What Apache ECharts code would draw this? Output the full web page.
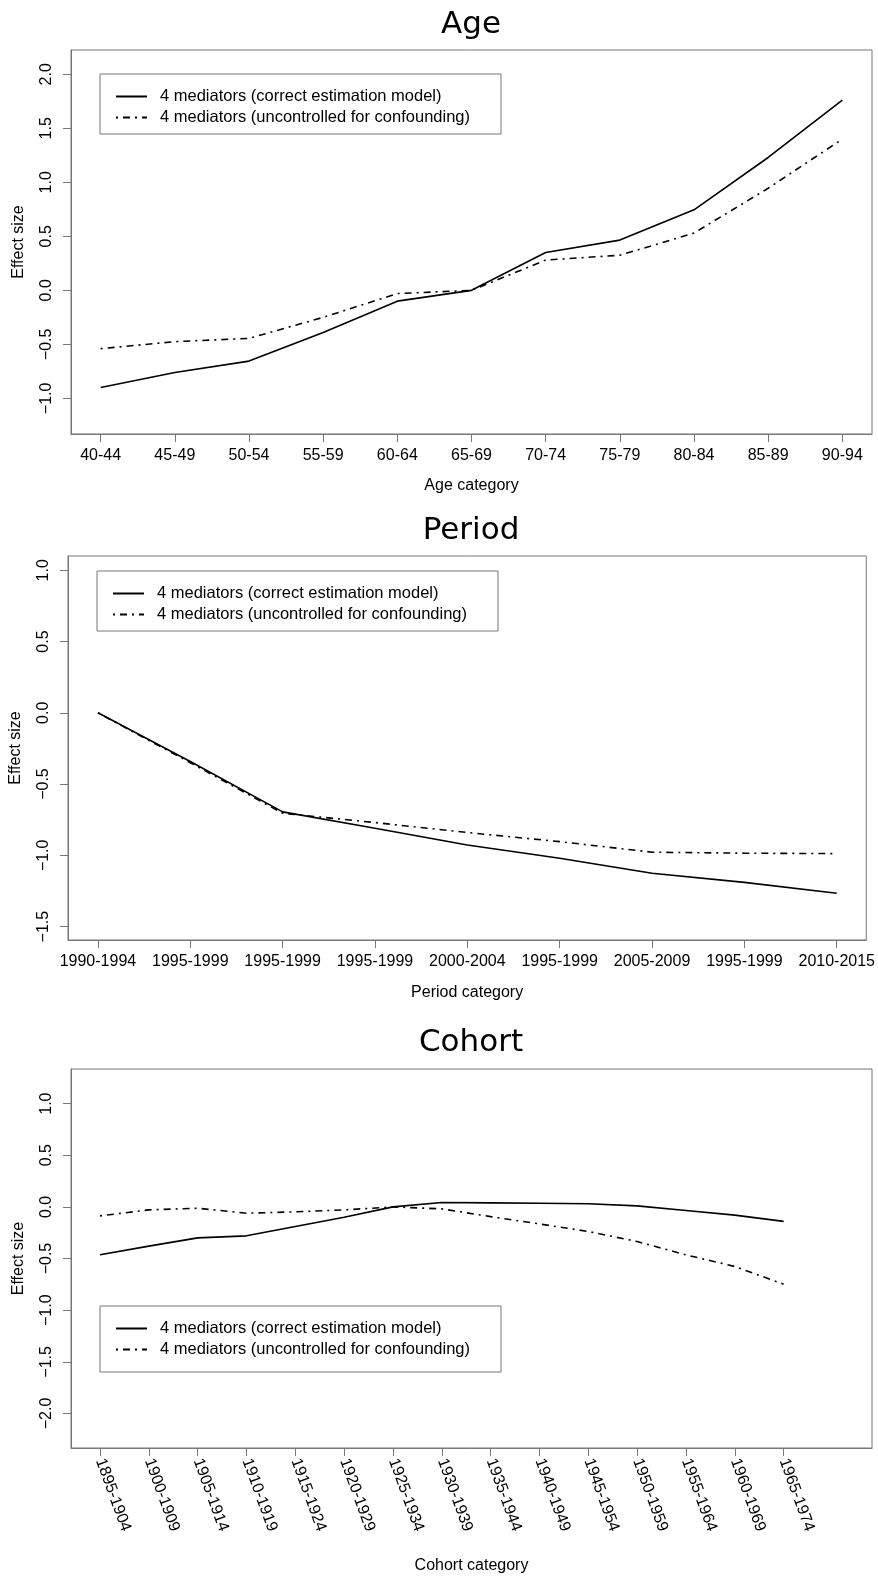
<!DOCTYPE html>
<html>
<head>
<meta charset="utf-8">
<script src="https://cdn.jsdelivr.net/npm/echarts@6/dist/echarts.min.js"></script>
<style>
html,body{margin:0;padding:0;background:#fff;}
#c{width:878px;height:1579px;}
</style>
</head>
<body>
<div id="c"></div>
<script>
// ---------- data ----------
const legendNames = ['4 mediators (correct estimation model)', '4 mediators (uncontrolled for confounding)'];

const ageCats = ['40-44','45-49','50-54','55-59','60-64','65-69','70-74','75-79','80-84','85-89','90-94'];
const ageCorrect = [-0.90, -0.76, -0.655, -0.39, -0.10, 0.0, 0.35, 0.465, 0.745, 1.23, 1.76];
const ageUncontrolled = [-0.54, -0.475, -0.445, -0.25, -0.03, 0.0, 0.28, 0.325, 0.53, 0.945, 1.40];
const ageYTicks = [-1.0, -0.5, 0.0, 0.5, 1.0, 1.5, 2.0];

const periodCats = ['1990-1994','1995-1999','1995-1999','1995-1999','2000-2004','1995-1999','2005-2009','1995-1999','2010-2015'];
const periodCorrect = [0.0, -0.342, -0.695, -0.81, -0.927, -1.02, -1.126, -1.19, -1.266];
const periodUncontrolled = [0.0, -0.35, -0.705, -0.77, -0.84, -0.904, -0.978, -0.985, -0.988];
const periodYTicks = [-1.5, -1.0, -0.5, 0.0, 0.5, 1.0];

const cohortCats = ['1895-1904','1900-1909','1905-1914','1910-1919','1915-1924','1920-1929','1925-1934','1930-1939','1935-1944','1940-1949','1945-1954','1950-1959','1955-1964','1960-1969','1965-1974'];
const cohortCorrect = [-0.464, -0.38, -0.30, -0.28, -0.19, -0.10, 0.0, 0.042, 0.039, 0.035, 0.03, 0.01, -0.035, -0.08, -0.14];
const cohortUncontrolled = [-0.087, -0.029, -0.013, -0.061, -0.048, -0.029, 0.0, -0.019, -0.094, -0.165, -0.238, -0.335, -0.464, -0.577, -0.748];
const cohortYTicks = [-2.0, -1.5, -1.0, -0.5, 0.0, 0.5, 1.0];

// ---------- styles ----------
const FONT = 'Liberation Sans, Arial, Helvetica, sans-serif';
const FRAME = '#777';
const dashPattern = [2, 5, 7, 5];
const fmtY = v => (v < 0 ? '\u2212' : '') + Math.abs(v).toFixed(1);

function idxTicks(n){ return Array.from({length:n}, (_, i) => i); }

const panels = [
  {title:'Age', name:'Age category', cats:ageCats, a:ageCorrect, b:ageUncontrolled, yt:ageYTicks,
   grid:{left:71, top:50, right:6, height:384}, xmin:-0.4, xmax:10.4, ymin:-1.33, ymax:2.225,
   titleTop:9, rotate:0, labelMargin:14, nameGap:44,
   legend:{left:100, top:74, padding:[14,31,8,15]}},
  {title:'Period', name:'Period category', cats:periodCats, a:periodCorrect, b:periodUncontrolled, yt:periodYTicks,
   grid:{left:68, top:556, right:9, height:384}, xmin:-0.324, xmax:8.32, ymin:-1.594, ymax:1.10,
   titleTop:515, rotate:0, labelMargin:14, nameGap:45,
   legend:{left:97, top:571, padding:[14,31,8,15]}},
  {title:'Cohort', name:'Cohort category', cats:cohortCats, a:cohortCorrect, b:cohortUncontrolled, yt:cohortYTicks,
   grid:{left:71, top:1069, right:6, height:379}, xmin:-0.594, xmax:15.81, ymin:-2.334, ymax:1.335,
   titleTop:1027, rotate:-70, labelMargin:11, nameGap:110,
   legend:{left:100, top:1306, padding:[14,31,14,15]}}
];

const option = {
  animation:false,
  backgroundColor:'#fff',
  title:[], grid:[], xAxis:[], yAxis:[], legend:[], series:[]
};

panels.forEach((p, k) => {
  option.title.push({
    text:p.title, left:471, top:p.titleTop, textAlign:'center', padding:0,
    textStyle:{fontFamily:'DejaVu Sans', fontSize:31, fontWeight:'normal', color:'#000'}
  });
  option.grid.push(Object.assign({show:true, borderColor:FRAME, borderWidth:1, containLabel:false}, p.grid));
  option.xAxis.push({
    type:'value', gridIndex:k, min:p.xmin, max:p.xmax, position:'bottom',
    name:p.name, nameLocation:'middle', nameGap:p.nameGap,
    nameTextStyle:{fontFamily:FONT, fontSize:16, color:'#000'},
    axisLine:{show:true, onZero:false, lineStyle:{color:FRAME, width:1}},
    axisTick:{show:true, length:8, lineStyle:{color:FRAME, width:1}, customValues:idxTicks(p.cats.length)},
    axisLabel:{show:true, fontFamily:FONT, fontSize:16, color:'#000', margin:p.labelMargin, rotate:p.rotate,
      customValues:idxTicks(p.cats.length), formatter:v => p.cats[Math.round(v)]},
    splitLine:{show:false}
  });
  option.yAxis.push({
    type:'value', gridIndex:k, min:p.ymin, max:p.ymax, position:'left',
    name:'Effect size', nameLocation:'middle', nameGap:44, nameRotate:90,
    nameTextStyle:{fontFamily:FONT, fontSize:16, color:'#000'},
    axisLine:{show:true, onZero:false, lineStyle:{color:FRAME, width:1}},
    axisTick:{show:true, length:8, lineStyle:{color:FRAME, width:1}, customValues:p.yt},
    axisLabel:{show:true, fontFamily:FONT, fontSize:16, color:'#000', margin:16, rotate:90,
      customValues:p.yt, formatter:fmtY},
    splitLine:{show:false}
  });
  option.legend.push({
    left:p.legend.left, top:p.legend.top, padding:p.legend.padding,
    orient:'vertical', itemWidth:31, itemHeight:16, itemGap:4,
    borderColor:FRAME, borderWidth:1, backgroundColor:'#fff',
    selectedMode:false, data:legendNames,
    itemStyle:{opacity:0},
    textStyle:{fontFamily:FONT, fontSize:16.5, color:'#000', padding:[0,0,0,8]}
  });
  option.series.push({
    name:legendNames[0], type:'line', xAxisIndex:k, yAxisIndex:k, symbol:'none', silent:true,
    lineStyle:{color:'#000', width:1.6, type:'solid'},
    itemStyle:{color:'#000'},
    data:p.a.map((v, i) => [i, v])
  });
  option.series.push({
    name:legendNames[1], type:'line', xAxisIndex:k, yAxisIndex:k, symbol:'none', silent:true,
    lineStyle:{color:'#000', width:1.6, type:dashPattern, cap:'butt'},
    itemStyle:{color:'#000'},
    data:p.b.map((v, i) => [i, v])
  });
});

const chart = echarts.init(document.getElementById('c'), null, {renderer:'canvas'});
chart.setOption(option);
</script>
</body>
</html>
